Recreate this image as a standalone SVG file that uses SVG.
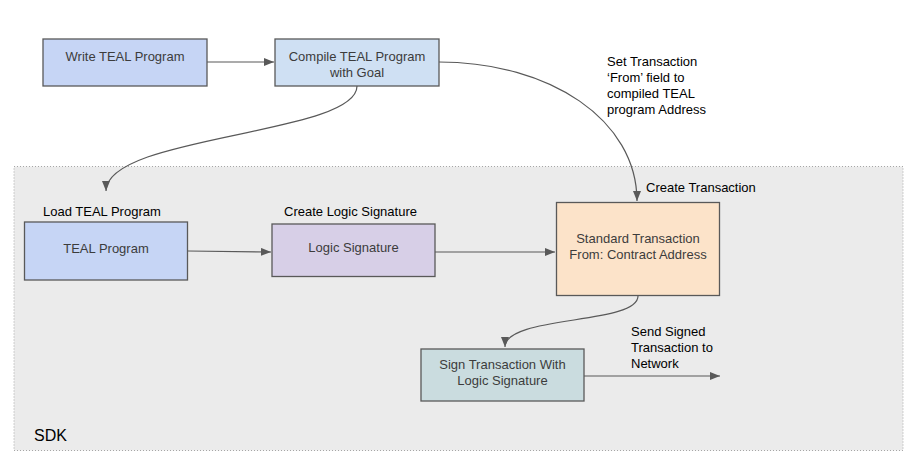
<svg xmlns="http://www.w3.org/2000/svg" width="923" height="470" viewBox="0 0 923 470">
<style>
.box{stroke:#595959;stroke-width:1.3}
.nt{font-family:"Liberation Sans",Arial,sans-serif;font-size:13px;fill:#3c3c3c;text-anchor:middle;dominant-baseline:central}
.lb{font-family:"Liberation Sans",Arial,sans-serif;font-size:13px;fill:#000}
.cn{fill:none;stroke:#595959;stroke-width:1.2}
</style>
<defs>
<marker id="ah" markerWidth="10" markerHeight="8" refX="10" refY="4" orient="auto" markerUnits="userSpaceOnUse">
<path d="M0,0 L10,4 L0,8 Z" fill="#595959"/>
</marker>
</defs>
<rect width="923" height="470" fill="#fff"/>
<g id="sdk">
<rect x="14" y="166.5" width="889" height="284" fill="#ebebeb" stroke="#a6a6a6" stroke-width="1" stroke-dasharray="1,2"/>
<text class="lb" x="34" y="441" style="font-size:16px">SDK</text>
</g>
<g id="connectors">
<path class="cn" d="M207,62 L274,62" marker-end="url(#ah)"/>
<path class="cn" d="M357,86 C357,135 106,135 106,191" marker-end="url(#ah)"/>
<path class="cn" d="M439,62 C550,62 637,120 637,201" marker-end="url(#ah)"/>
<path class="cn" d="M188,251 L271,252" marker-end="url(#ah)"/>
<path class="cn" d="M435,252 L555,252" marker-end="url(#ah)"/>
<path class="cn" d="M638,296 C638,325 505,315 505,347" marker-end="url(#ah)"/>
<path class="cn" d="M584,376 L720,376" marker-end="url(#ah)"/>
</g>
<g id="write">
<rect class="box" x="43" y="39" width="164" height="47" fill="#c6d5f5"/>
<text class="nt" x="125" y="56">Write TEAL Program</text>
</g>
<g id="compile">
<rect class="box" x="275" y="39" width="164" height="47" fill="#cfe0f3"/>
<text class="nt" x="357" y="56">Compile TEAL Program</text>
<text class="nt" x="357" y="72">with Goal</text>
</g>
<g id="setlabel">
<text class="lb" x="607" y="66">Set Transaction</text>
<text class="lb" x="607" y="82">‘From’ field to</text>
<text class="lb" x="607" y="98">compiled TEAL</text>
<text class="lb" x="607" y="114">program Address</text>
</g>
<g id="teal">
<text class="lb" x="43" y="216">Load TEAL Program</text>
<rect class="box" x="24.5" y="222" width="163" height="58" fill="#c6d5f5"/>
<text class="nt" x="106" y="248">TEAL Program</text>
</g>
<g id="logic">
<text class="lb" x="284" y="216">Create Logic Signature</text>
<rect class="box" x="272" y="224" width="163" height="52.5" fill="#d7cfe7"/>
<text class="nt" x="353.5" y="247">Logic Signature</text>
</g>
<g id="standard">
<text class="lb" x="646" y="192">Create Transaction</text>
<rect class="box" x="556.5" y="202.5" width="163" height="93" fill="#fce3c9"/>
<text class="nt" x="638" y="238">Standard Transaction</text>
<text class="nt" x="638" y="254">From: Contract Address</text>
</g>
<g id="sign">
<rect class="box" x="421" y="349" width="163" height="52" fill="#cadcdf"/>
<text class="nt" x="502.5" y="364">Sign Transaction With</text>
<text class="nt" x="502.5" y="380">Logic Signature</text>
</g>
<g id="sendlabel">
<text class="lb" x="631" y="336">Send Signed</text>
<text class="lb" x="631" y="352">Transaction to</text>
<text class="lb" x="631" y="368">Network</text>
</g>
</svg>
